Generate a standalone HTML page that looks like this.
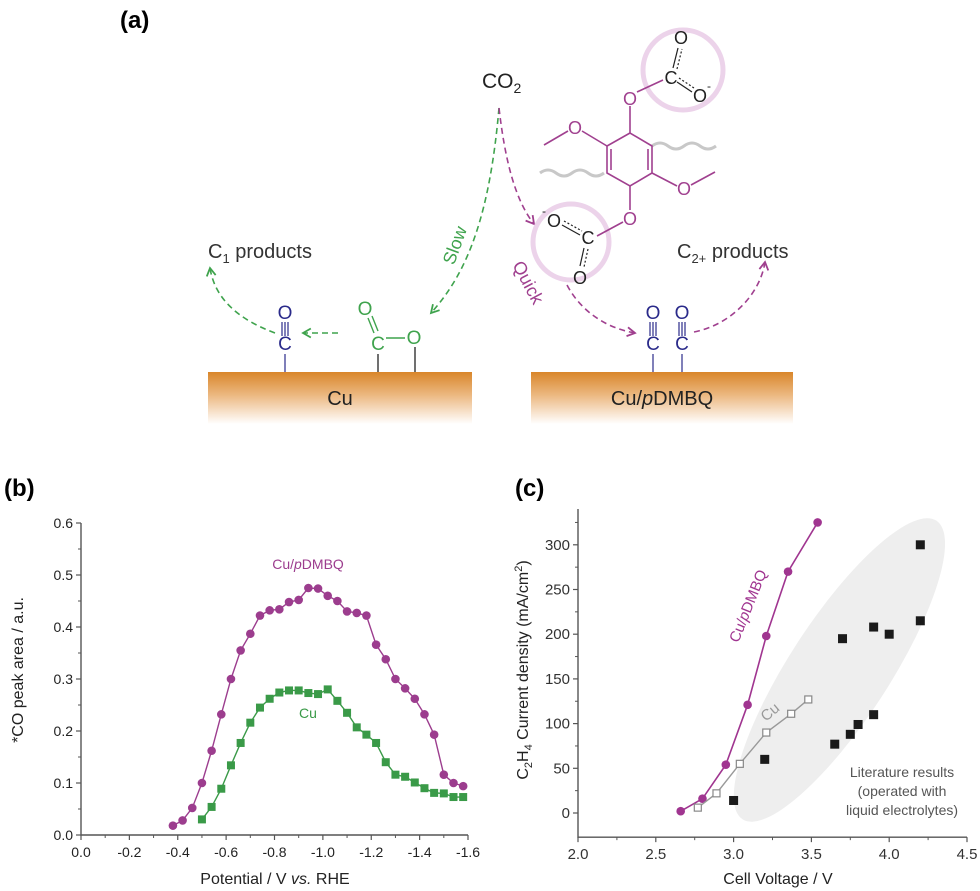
<!DOCTYPE html>
<html><head><meta charset="utf-8"><style>
body{margin:0;background:#fff}
svg{display:block;font-family:"Liberation Sans",sans-serif}
</style></head><body>
<svg id="fig" width="980" height="891" viewBox="0 0 980 891">
<defs>
<linearGradient id="cu" x1="0" y1="0" x2="0" y2="1"><stop offset="0" stop-color="#d9862a"/><stop offset="0.45" stop-color="#ecb982"/><stop offset="1" stop-color="#ffffff"/></linearGradient>
<marker id="ag" viewBox="0 0 10 10" refX="8" refY="5" markerWidth="7" markerHeight="7" orient="auto"><path d="M1,1 L8,5 L1,9" fill="none" stroke="#3fa34d" stroke-width="1.6"/></marker>
<marker id="ap" viewBox="0 0 10 10" refX="8" refY="5" markerWidth="7" markerHeight="7" orient="auto"><path d="M1,1 L8,5 L1,9" fill="none" stroke="#a0408f" stroke-width="1.6"/></marker>
</defs>
<g>
<text x="120" y="28" font-size="24" font-weight="bold">(a)</text>
<text x="482" y="88" font-size="21" fill="#222">CO<tspan font-size="14" dy="5">2</tspan></text>
<text x="208" y="258" font-size="20" fill="#333">C<tspan font-size="13" dy="5">1</tspan><tspan dy="-5"> products</tspan></text>
<text x="677" y="258" font-size="20" fill="#333">C<tspan font-size="13" dy="5">2+</tspan><tspan dy="-5"> products</tspan></text>
<rect x="208" y="372" width="264" height="52" fill="url(#cu)"/>
<rect x="531" y="372" width="262" height="52" fill="url(#cu)"/>
<text x="340" y="405" font-size="20" text-anchor="middle" fill="#222">Cu</text>
<text x="662" y="405" font-size="20" text-anchor="middle" fill="#222">Cu/<tspan font-style="italic">p</tspan>DMBQ</text>
<g fill="none" stroke-width="1.6" stroke-dasharray="6,4">
<path d="M499,108 C490,210 470,270 431,313" stroke="#3fa34d" marker-end="url(#ag)"/>
<path d="M338,333 L303,333" stroke="#3fa34d" marker-end="url(#ag)"/>
<path d="M275,333 C240,320 215,300 210,268" stroke="#3fa34d" marker-end="url(#ag)"/>
<path d="M499,108 C505,160 515,200 534,224" stroke="#a0408f" marker-end="url(#ap)"/>
<path d="M567,285 C580,310 605,328 635,333" stroke="#a0408f" marker-end="url(#ap)"/>
<path d="M694,332 C730,325 760,295 765,262" stroke="#a0408f" marker-end="url(#ap)"/>
</g>
<text x="454" y="252" font-size="18" fill="#3fa34d" text-anchor="middle" transform="rotate(-70 454 245)">Slow</text>
<text x="529" y="289" font-size="18" fill="#a0408f" text-anchor="middle" transform="rotate(62 529 282)">Quick</text>
<g font-size="19" text-anchor="middle" fill="#2a2a8a">
<text x="285" y="319">O</text><text x="285" y="350">C</text>
<text x="653" y="319">O</text><text x="653" y="350">C</text>
<text x="682" y="319">O</text><text x="682" y="350">C</text>
</g>
<g stroke="#2a2a8a" stroke-width="1.2">
<line x1="282" y1="322" x2="282" y2="336"/><line x1="285" y1="322" x2="285" y2="336"/><line x1="288" y1="322" x2="288" y2="336"/>
<line x1="650" y1="322" x2="650" y2="336"/><line x1="653" y1="322" x2="653" y2="336"/><line x1="656" y1="322" x2="656" y2="336"/>
<line x1="679" y1="322" x2="679" y2="336"/><line x1="682" y1="322" x2="682" y2="336"/><line x1="685" y1="322" x2="685" y2="336"/>
<line x1="285" y1="354" x2="285" y2="372"/><line x1="653" y1="354" x2="653" y2="372"/><line x1="682" y1="354" x2="682" y2="372"/>
</g>
<g font-size="19" text-anchor="middle" fill="#3fa34d">
<text x="365" y="315">O</text><text x="378" y="350">C</text><text x="414" y="344">O</text>
</g>
<g stroke="#3fa34d" stroke-width="1.4"><line x1="368" y1="318" x2="374" y2="333"/><line x1="372" y1="316" x2="378" y2="331"/><line x1="386" y1="338" x2="405" y2="338"/></g>
<g stroke="#333" stroke-width="1.4"><line x1="378" y1="354" x2="378" y2="372"/><line x1="415" y1="347" x2="415" y2="372"/></g>
<g>
<circle cx="683" cy="70" r="40" fill="none" stroke="#ecd3ea" stroke-width="5"/>
<circle cx="571" cy="242" r="38" fill="none" stroke="#ecd3ea" stroke-width="5"/>
<path d="M652,146 q8,-6 16,0 t16,0 t16,0 t16,0" fill="none" stroke="#c8c8c8" stroke-width="3"/>
<path d="M540,173 q8,-6 16,0 t16,0 t16,0 t16,0" fill="none" stroke="#c8c8c8" stroke-width="3"/>
<g stroke="#a0408f" stroke-width="1.6" fill="none">
<path d="M630,133 L607,146 L607,173 L630,186 L652,173 L652,146 Z"/>
<line x1="611" y1="149" x2="611" y2="170"/><line x1="648" y1="149" x2="648" y2="170"/>
<line x1="630" y1="133" x2="630" y2="106"/><line x1="630" y1="186" x2="630" y2="210"/>
<line x1="607" y1="146" x2="582" y2="131"/><line x1="568" y1="131" x2="544" y2="145"/>
<line x1="652" y1="173" x2="677" y2="186"/><line x1="691" y1="185" x2="715" y2="172"/>
<line x1="637" y1="92" x2="663" y2="80"/><line x1="623" y1="222" x2="597" y2="236"/>
</g>
<g font-size="18" text-anchor="middle" fill="#a0408f">
<text x="630" y="105">O</text><text x="630" y="225">O</text><text x="575" y="134">O</text><text x="684" y="195">O</text>
</g>
<g font-size="18" text-anchor="middle" fill="#222">
<text x="671" y="84">C</text><text x="681" y="44">O</text><text x="700" y="102">O</text><text x="709" y="90" font-size="12">-</text>
<text x="588" y="244">C</text><text x="554" y="227">O</text><text x="544" y="215" font-size="12">-</text><text x="580" y="284">O</text>
</g>
<g stroke="#222" stroke-width="1.2" fill="none">
<line x1="673" y1="68" x2="678" y2="48"/><line x1="677" y1="69" x2="682" y2="49" stroke-dasharray="2,2"/>
<line x1="677" y1="82" x2="692" y2="92"/><line x1="679" y1="78" x2="694" y2="88" stroke-dasharray="2,2"/>
<line x1="562" y1="225" x2="580" y2="235"/><line x1="564" y1="221" x2="582" y2="231" stroke-dasharray="2,2"/>
<line x1="584" y1="248" x2="580" y2="266"/><line x1="588" y1="249" x2="584" y2="267" stroke-dasharray="2,2"/>
</g>
</g>
</g>

<g id="pb">
<text x="4" y="496" font-size="24" font-weight="bold">(b)</text>
<text x="23" y="670" font-size="16" text-anchor="middle" transform="rotate(-90 23 670)" fill="#222">*CO peak area / a.u.</text>
<text x="275" y="884" font-size="16" text-anchor="middle" fill="#222">Potential / V <tspan font-style="italic">vs.</tspan> RHE</text>
<text x="308" y="569" font-size="14" text-anchor="middle" fill="#9c3d8e">Cu/<tspan font-style="italic">p</tspan>DMBQ</text>
<text x="308" y="718" font-size="14" text-anchor="middle" fill="#3a9a48">Cu</text>
</g>

<g id="pc">
<text x="515" y="496" font-size="24" font-weight="bold">(c)</text>
<text x="528" y="670" font-size="16" text-anchor="middle" transform="rotate(-90 528 670)" fill="#222">C<tspan font-size="11" dy="4">2</tspan><tspan dy="-4">H</tspan><tspan font-size="11" dy="4">4</tspan><tspan dy="-4"> Current density (mA/cm</tspan><tspan font-size="11" dy="-6">2</tspan><tspan dy="6">)</tspan></text>
<text x="778" y="884" font-size="16" text-anchor="middle" fill="#222">Cell Voltage / V</text>
</g>
</svg>
<script>
// ---- panel b data ----
const bPotential = [-0.38,-0.42,-0.46,-0.50,-0.54,-0.58,-0.62,-0.66,-0.70,-0.74,-0.78,-0.82,-0.86,-0.90,-0.94,-0.98,-1.02,-1.06,-1.10,-1.14,-1.18,-1.22,-1.26,-1.30,-1.34,-1.38,-1.42,-1.46,-1.50,-1.54,-1.58];
const bPdmbq = [0.018,0.028,0.052,0.10,0.162,0.232,0.30,0.355,0.387,0.422,0.432,0.434,0.448,0.452,0.475,0.474,0.46,0.45,0.43,0.427,0.422,0.366,0.338,0.30,0.282,0.262,0.232,0.193,0.116,0.10,0.094];
const bCuPotential = [-0.50,-0.54,-0.58,-0.62,-0.66,-0.70,-0.74,-0.78,-0.82,-0.86,-0.90,-0.94,-0.98,-1.02,-1.06,-1.10,-1.14,-1.18,-1.22,-1.26,-1.30,-1.34,-1.38,-1.42,-1.46,-1.50,-1.54,-1.58];
const bCu = [0.03,0.054,0.089,0.134,0.177,0.216,0.245,0.262,0.274,0.278,0.278,0.273,0.271,0.28,0.258,0.235,0.207,0.193,0.177,0.14,0.116,0.112,0.101,0.09,0.081,0.08,0.073,0.073];
const bXTicks = [0.0,-0.2,-0.4,-0.6,-0.8,-1.0,-1.2,-1.4,-1.6];
const bXTickLabels = ["0.0","-0.2","-0.4","-0.6","-0.8","-1.0","-1.2","-1.4","-1.6"];
const bYTicks = [0,0.1,0.2,0.3,0.4,0.5,0.6];
const bYTickLabels = ["0.0","0.1","0.2","0.3","0.4","0.5","0.6"];
// ---- panel c data ----
const cPdmbqV = [2.66,2.80,2.95,3.09,3.21,3.35,3.54];
const cPdmbqJ = [2,16,54,121,198,270,325];
const cCuV = [2.77,2.89,3.04,3.21,3.37,3.48];
const cCuJ = [6,22,55,90,111,127];
const cLitV = [3.0,3.2,3.65,3.7,3.75,3.8,3.9,3.9,4.0,4.2,4.2];
const cLitJ = [14,60,77,195,88,99,208,110,200,215,300];
const cXTicks = [2.0,2.5,3.0,3.5,4.0,4.5];
const cXTickLabels = ["2.0","2.5","3.0","3.5","4.0","4.5"];
const cYTicks = [0,50,100,150,200,250,300];
const cYTickLabels = ["0","50","100","150","200","250","300"];

const NS="http://www.w3.org/2000/svg";
function mk(parent,tag,attrs){const e=document.createElementNS(NS,tag);for(const k in attrs)e.setAttribute(k,attrs[k]);parent.appendChild(e);return e;}

const bx=v=>81+(-v)*(387/1.6);
const by=v=>835-v*520;
const pb=document.getElementById('pb');
const ax=mk(pb,'path',{d:`M${bx(0)},${by(0.6)} L${bx(0)},${by(0)} L${bx(-1.6)},${by(0)}`,fill:'none',stroke:'#555','stroke-width':1.4});


bXTicks.forEach((t,i)=>{
  mk(pb,'line',{x1:bx(t),x2:bx(t),y1:by(0),y2:by(0)+5,stroke:'#555','stroke-width':1.2});
  if(i<bXTicks.length-1) mk(pb,'line',{x1:bx(t-0.1),x2:bx(t-0.1),y1:by(0),y2:by(0)+3,stroke:'#555','stroke-width':1});
  const tx=mk(pb,'text',{x:bx(t),y:by(0)+22,'font-size':14,'text-anchor':'middle',fill:'#222'});tx.textContent=bXTickLabels[i];
  
  
});
bYTicks.forEach((t,i)=>{
  mk(pb,'line',{x1:bx(0)-5,x2:bx(0),y1:by(t),y2:by(t),stroke:'#555','stroke-width':1.2});
  if(i<bYTicks.length-1) mk(pb,'line',{x1:bx(0)-3,x2:bx(0),y1:by(t+0.05),y2:by(t+0.05),stroke:'#555','stroke-width':1});
  const tx=mk(pb,'text',{x:bx(0)-8,y:by(t)+5,'font-size':14,'text-anchor':'end',fill:'#222'});tx.textContent=bYTickLabels[i];
  
  
});
const l1=mk(pb,'polyline',{points:bPotential.map((v,i)=>bx(v)+','+by(bPdmbq[i])).join(' '),fill:'none',stroke:'#9c3d8e','stroke-width':1.4});


bPotential.forEach((v,i)=>{const c=mk(pb,'circle',{cx:bx(v),cy:by(bPdmbq[i]),r:4.3,fill:'#9c3d8e'});
  
  });
const l2=mk(pb,'polyline',{points:bCuPotential.map((v,i)=>bx(v)+','+by(bCu[i])).join(' '),fill:'none',stroke:'#3a9a48','stroke-width':1.4});


bCuPotential.forEach((v,i)=>{const c=mk(pb,'rect',{x:bx(v)-4,y:by(bCu[i])-4,width:8,height:8,fill:'#3a9a48'});
  
  });

const cx=v=>578+(v-2)*155.6;
const cy=v=>813-v*0.894;
const pc=document.getElementById('pc');
const ecx=cx(3.68), ecy=cy(160);
const el=mk(pc,'ellipse',{cx:ecx,cy:ecy,rx:178,ry:50,fill:'#eeeeee',transform:`rotate(-57 ${ecx} ${ecy})`});


const axc=mk(pc,'path',{d:`M${cx(2)},${cy(340)} L${cx(2)},${cy(-27)} L${cx(4.5)},${cy(-27)}`,fill:'none',stroke:'#555','stroke-width':1.4});


cXTicks.forEach((t,i)=>{
  mk(pc,'line',{x1:cx(t),x2:cx(t),y1:cy(-27),y2:cy(-27)+5,stroke:'#555','stroke-width':1.2});
  if(i<cXTicks.length-1) mk(pc,'line',{x1:cx(t+0.25),x2:cx(t+0.25),y1:cy(-27),y2:cy(-27)+3,stroke:'#555','stroke-width':1});
  const tx=mk(pc,'text',{x:cx(t),y:cy(-27)+22,'font-size':15,'text-anchor':'middle',fill:'#333'});tx.textContent=cXTickLabels[i];
  
  
});
cYTicks.forEach((t,i)=>{
  mk(pc,'line',{x1:cx(2)-5,x2:cx(2),y1:cy(t),y2:cy(t),stroke:'#555','stroke-width':1.2});
  mk(pc,'line',{x1:cx(2)-3,x2:cx(2),y1:cy(t+25),y2:cy(t+25),stroke:'#555','stroke-width':1});
  const tx=mk(pc,'text',{x:cx(2)-8,y:cy(t)+5,'font-size':15,'text-anchor':'end',fill:'#333'});tx.textContent=cYTickLabels[i];
  
  
});
const lc1=mk(pc,'polyline',{points:cPdmbqV.map((v,i)=>cx(v)+','+cy(cPdmbqJ[i])).join(' '),fill:'none',stroke:'#a03590','stroke-width':1.6});


cPdmbqV.forEach((v,i)=>{const c=mk(pc,'circle',{cx:cx(v),cy:cy(cPdmbqJ[i]),r:4.3,fill:'#a03590'});
  
  });
const lc2=mk(pc,'polyline',{points:cCuV.map((v,i)=>cx(v)+','+cy(cCuJ[i])).join(' '),fill:'none',stroke:'#999','stroke-width':1.4});


cCuV.forEach((v,i)=>{const c=mk(pc,'rect',{x:cx(v)-3.5,y:cy(cCuJ[i])-3.5,width:7,height:7,fill:'#fff',stroke:'#888','stroke-width':1.2});
  
  });
cLitV.forEach((v,i)=>{const c=mk(pc,'rect',{x:cx(v)-4.5,y:cy(cLitJ[i])-4.5,width:9,height:9,fill:'#1a1a1a'});
  
  });
const t1=mk(pc,'text',{x:748,y:611,'font-size':15,'text-anchor':'middle',fill:'#a03590',transform:'rotate(-68 748 606)'});
t1.textContent='Cu/';
const ti=mk(t1,'tspan',{'font-style':'italic'});ti.textContent='p';
const tr=mk(t1,'tspan',{});tr.textContent='DMBQ';


const t2=mk(pc,'text',{x:770,y:717,'font-size':15,'text-anchor':'middle',fill:'#999',transform:'rotate(-40 770 712)'});
t2.textContent='Cu';


['Literature results','(operated with','liquid electrolytes)'].forEach((s,i)=>{
  const t=mk(pc,'text',{x:902,y:777+i*19,'font-size':14,'text-anchor':'middle',fill:'#555'});t.textContent=s;
  
  
});
</script>
</body></html>
